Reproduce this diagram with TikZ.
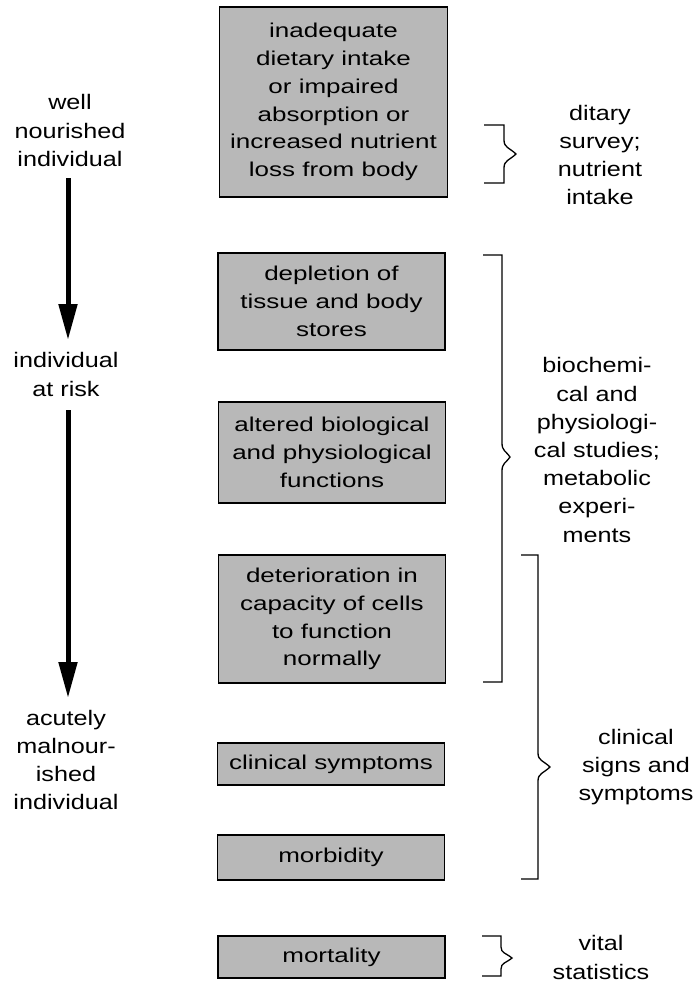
\documentclass[tikz,border=0pt]{standalone}
\usepackage{fontspec}
\setmainfont{Liberation Sans}
% slightly widened sans faces for the side labels and the stage boxes
\newfontfamily\labelfam[FakeStretch=1.2]{Liberation Sans}
\newfontfamily\boxfam[FakeStretch=1.3]{Liberation Sans}
\usetikzlibrary{arrows.meta}

% square-ended brace: left x, vertical x, top, bottom, tip x, tip y, half-span of the bump
\newcommand\sidebrace[7]{%
  \draw[brk] (#1,#3) -- (#2,#3) -- ({#2},{#6-#7})
    .. controls ({#2},{#6-0.45*#7}) and ({#2+0.45*(#5-#2)},{#6-0.45*#7}) .. (#5,#6)
    .. controls ({#2+0.45*(#5-#2)},{#6+0.45*#7}) and ({#2},{#6+0.45*#7}) .. ({#2},{#6+#7})
    -- (#2,#4) -- (#1,#4);}

\begin{document}
\begin{tikzpicture}[x=1pt,y=-1pt,
  stage/.style={draw=black, line width=1.4pt, fill=black!28, minimum width=227pt,
    inner sep=0pt, align=center, font=\boxfam\fontsize{20}{27.8}\selectfont},
  lab/.style={align=center, inner sep=0pt, font=\labelfam\fontsize{21}{28.2}\selectfont},
  flow/.style={line width=5pt, -{Triangle[length=36pt,width=18pt]}},
  brk/.style={line width=1.3pt, line join=miter}]

\fill[white] (0,0) rectangle (697,983);

% stages of nutritional deficiency
\node[stage, minimum width=228pt, minimum height=190pt] (b1) at (333.5,102)
  {inadequate\\dietary intake\\or impaired\\absorption or\\increased nutrient\\loss from body};
\node[stage, minimum height=97pt] (b2) at (331.5,301.5)
  {depletion of\\tissue and body\\stores};
\node[stage, minimum height=101pt] (b3) at (332,452.5)
  {altered biological\\and physiological\\functions};
\node[stage, minimum height=128pt] (b4) at (332,619)
  {deterioration in\\capacity of cells\\to function\\normally};
\node[stage, minimum height=42pt] (b5) at (331,764) {clinical symptoms};
\node[stage, minimum height=45pt] (b6) at (331,857.5) {morbidity};
\node[stage, minimum height=42pt] (b7) at (331.5,957) {mortality};

% condition of the individual
\node[lab] (lwell) at (70,130.5) {well\\nourished\\individual};
\node[lab] (lrisk) at (66,374.5) {individual\\at risk};
\node[lab] (lacute) at (66,760) {acutely\\malnour-\\ished\\individual};

\coordinate (a1s) at (68,178);
\coordinate (a1e) at (68,340);
\coordinate (a2s) at (68,410);
\coordinate (a2e) at (68,698);
\draw[flow] (a1s) -- (a1e);
\draw[flow] (a2s) -- (a2e);

% assessment methods
\sidebrace{484}{504}{125}{183}{516}{154}{14}
\sidebrace{483}{502}{255}{682}{510}{457}{14}
\sidebrace{521}{538}{555}{879}{550}{767}{14}
\sidebrace{482}{501}{936}{976}{512}{958}{11}

\node[lab] (rdiet) at (600,155) {ditary\\survey;\\nutrient\\intake};
\node[lab] (rbio) at (597,450) {biochemi-\\cal and\\physiologi-\\cal studies;\\metabolic\\experi-\\ments};
\node[lab] (rclin) at (636,767) {clinical\\signs and\\symptoms};
\node[lab] (rvital) at (601,957.5) {vital\\statistics};
\end{tikzpicture}
\end{document}
